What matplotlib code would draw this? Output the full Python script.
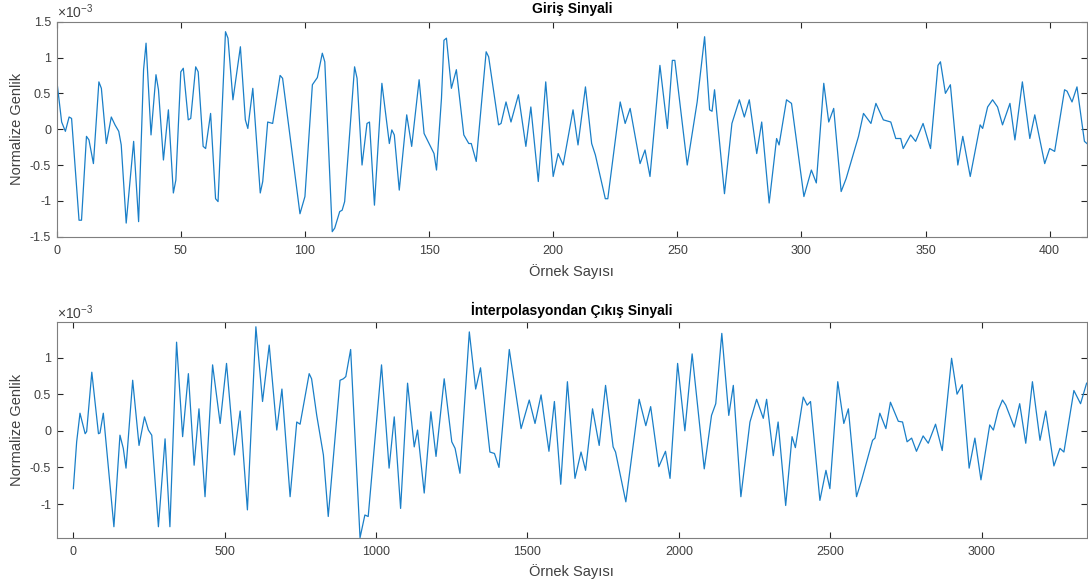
import numpy as np
import matplotlib
matplotlib.use('Agg')
from matplotlib import pyplot as plt
from matplotlib.ticker import FormatStrFormatter

# Input signal (values in units of 1e-3)
giris_x = [0, 2, 3.5, 5, 6, 9, 10, 12, 13, 14.8, 17, 18, 20, 22, 23.5, 25, 26, 28,
           31, 33, 35, 36, 38, 40, 41, 43, 45, 47, 48, 50, 51, 53, 54, 56, 57, 59,
           60, 62, 64, 65, 68, 69, 71, 74, 76, 77, 79, 82, 83, 85, 87, 90, 91, 98,
           100, 103, 105, 107, 108, 111, 112, 114, 115, 116, 120, 121, 123, 125,
           126, 128, 131, 134, 135, 136, 138, 141, 143, 146, 148, 150, 152, 153,
           155, 156, 157, 159, 161, 164, 166, 167, 169, 173, 174, 178, 179, 181,
           183, 186, 189, 191, 194, 197, 200, 202, 204, 208, 210, 213, 215.5, 217,
           221, 222, 227, 229, 231, 235, 237, 239, 243, 246, 248, 249, 254, 258,
           261, 263, 264, 265, 269, 272, 275, 277, 279, 282, 284, 287, 290, 291,
           294, 296, 301, 304, 306, 309, 311, 313, 316, 318, 323, 325, 328, 330,
           333, 336, 338, 340, 341, 344, 346, 349, 352, 355, 356, 358, 360, 363,
           365, 368, 372, 373, 375, 377, 379, 381, 384, 386, 389, 392, 394, 398,
           400, 402, 406, 407, 409, 411, 414, 415]
giris_y = [0.69, 0.1, -0.03, 0.17, 0.15, -1.27, -1.27, -0.1, -0.15, -0.48, 0.66, 0.57,
           -0.2, 0.17, 0.06, -0.03, -0.22, -1.31,
           -0.17, -1.29, 0.83, 1.2, -0.08, 0.76, 0.55, -0.43, 0.27, -0.89, -0.71,
           0.8, 0.85, 0.13, 0.15, 0.87, 0.8, -0.24,
           -0.27, 0.22, -0.97, -1.01, 1.36, 1.27, 0.41, 1.15, 0.13, 0.01, 0.57,
           -0.89, -0.73, 0.1, 0.08, 0.75, 0.71, -1.18,
           -0.94, 0.62, 0.72, 1.06, 0.94, -1.43, -1.38, -1.15, -1.13, -1.01, 0.87,
           0.71, -0.5, 0.08,
           0.1, -1.06, 0.64, -0.2, -0.01, -0.08, -0.85, 0.2, -0.24, 0.69, -0.06,
           -0.2, -0.34, -0.57,
           0.43, 1.24, 1.27, 0.57, 0.83, -0.08, -0.2, -0.2, -0.45, 1.08, 1.01,
           0.06, 0.08, 0.38,
           0.1, 0.48, -0.24, 0.31, -0.73, 0.66, -0.66, -0.34, -0.5, 0.27, -0.22,
           0.59, -0.2, -0.36,
           -0.97, -0.97, 0.38, 0.08, 0.29, -0.48, -0.29, -0.66, 0.89, 0.01, 0.96,
           0.96, -0.5, 0.38,
           1.29, 0.27, 0.25, 0.55, -0.9, 0.08, 0.41, 0.17, 0.41, -0.34, 0.1, -1.03,
           -0.13, -0.22,
           0.41, 0.36, -0.94, -0.57, -0.75, 0.64, 0.1, 0.29, -0.87, -0.69, -0.1,
           0.22, 0.08, 0.36,
           0.13, 0.1, -0.13, -0.13, -0.27, -0.08, -0.17, 0.08, -0.27, 0.89, 0.94,
           0.5, 0.62, -0.5,
           -0.1, -0.66, 0.06, 0.01, 0.31, 0.41, 0.31, 0.06, 0.36, -0.15, 0.66,
           -0.13, 0.2, -0.48,
           -0.27, -0.31, 0.55, 0.53, 0.38, 0.59, -0.17, -0.2]

# Interpolated output signal (values in units of 1e-3)
cikis_x = [0, 11, 22, 39, 44, 61, 83, 88, 99, 134, 154, 165, 174, 196, 217, 235,
           248, 259, 281, 303, 319, 341, 361, 380, 399, 415, 435, 460, 485, 506,
           532, 551, 575, 603, 625, 647, 672, 689, 716, 738, 749, 779, 787, 804,
           826, 842, 881, 892, 900, 916, 947, 963, 974, 1018, 1043, 1060, 1081,
           1104, 1126, 1137, 1159, 1181, 1198, 1225, 1250, 1261, 1277, 1308, 1329,
           1345, 1376, 1391, 1406, 1440, 1479, 1506, 1525, 1545, 1571, 1589, 1610,
           1632, 1657, 1677, 1692, 1715, 1737, 1758, 1783, 1791, 1825, 1869, 1891,
           1907, 1934, 1956, 1971, 1996, 2020, 2044, 2084, 2108, 2122, 2142, 2165,
           2180, 2205, 2235, 2257, 2279, 2290, 2312, 2328, 2353, 2374, 2385, 2411,
           2424, 2435, 2466, 2486, 2499, 2525, 2545, 2560, 2587, 2604, 2640, 2648,
           2664, 2684, 2699, 2725, 2739, 2754, 2769, 2785, 2807, 2824, 2848, 2870,
           2901, 2919, 2936, 2959, 2978, 2998, 3027, 3039, 3055, 3069, 3080, 3108,
           3126, 3146, 3168, 3193, 3212, 3239, 3259, 3272, 3305, 3327, 3347]
cikis_y = [-0.79, -0.15, 0.24, -0.04, -0.01, 0.8, -0.04, -0.03, 0.24, -1.31, -0.06,
           -0.24, -0.51, 0.69, -0.2, 0.19,
           0.01, -0.06, -1.31, -0.11, -1.31, 1.21, -0.08, 0.78, -0.47, 0.3, -0.9,
           0.9, 0.1, 0.92,
           -0.33, 0.27, -1.08, 1.42, 0.4, 1.17, 0.01, 0.57, -0.9, 0.12, 0.09, 0.78,
           0.71, 0.21,
           -0.33, -1.17, 0.69, 0.71, 0.74, 1.11, -1.46, -1.15, -1.17, 0.9, -0.51,
           0.19, -1.06,
           0.65, -0.22, 0.01, -0.85, 0.26, -0.35, 0.71, -0.15, -0.24, -0.58, 1.35,
           0.57,
           0.86, -0.29, -0.31, -0.5, 1.11, 0.03, 0.42, 0.1, 0.49, -0.28, 0.4, -0.73,
           0.67, -0.65, -0.29, -0.54, 0.3, -0.2, 0.62, -0.22, -0.29, -0.97, 0.43,
           0.07,
           0.33, -0.49, -0.28, -0.65, 0.92, 0.0, 1.05, -0.52, 0.21, 0.37, 1.33, 0.21,
           0.62, -0.9, 0.12, 0.43, 0.17, 0.43, -0.34, 0.12, -1.02, -0.08, -0.23,
           0.46,
           0.35, 0.4, -0.95, -0.54, -0.79, 0.67, 0.1, 0.3, -0.9, -0.67, -0.13, -0.1,
           0.24, 0.03, 0.39, 0.13, 0.12, -0.15, -0.1, -0.28, -0.07, -0.17, 0.09,
           -0.27,
           0.99, 0.5, 0.63, -0.51, -0.1, -0.67, 0.08, 0.01, 0.28, 0.42, 0.35, 0.05,
           0.37, -0.17, 0.67, -0.13, 0.27, -0.48, -0.24, -0.29, 0.55, 0.37, 0.65]

assert len(giris_x) == len(giris_y)
assert len(cikis_x) == len(cikis_y)

plt.rcParams['font.family'] = ['Liberation Sans', 'DejaVu Sans']
plt.rcParams['mathtext.default'] = 'regular'
plt.rcParams['axes.unicode_minus'] = False

LINE = '#1a7fc8'
GRAY = '#262626'
TXT = '#404040'


def style_axes(ax):
    for sp in ax.spines.values():
        sp.set_color('#7f7f7f')
        sp.set_linewidth(0.8)
    ax.tick_params(direction='in', length=4, width=0.8, color=GRAY,
                   top=True, right=True, labelsize=9, labelcolor=TXT)
    ax.tick_params(axis='x', pad=6)
    ax.tick_params(axis='y', pad=4)
    ax.yaxis.set_major_formatter(FormatStrFormatter('%g'))
    ax.text(0, 1.003, r'$\times10^{-3}$', transform=ax.transAxes,
            fontsize=10, color=TXT, va='bottom', ha='left')


fig = plt.figure(figsize=(10.88, 5.81), dpi=100)

ax1 = fig.add_axes([0.0521, 0.5926, 0.9469, 0.3701])
ax1.plot(giris_x, giris_y, color=LINE, linewidth=0.9, solid_joinstyle='round')
ax1.set_xlim(0, 415)
ax1.set_ylim(-1.5, 1.5)
ax1.set_xticks(np.arange(0, 401, 50))
ax1.set_yticks(np.arange(-1.5, 1.51, 0.5))
style_axes(ax1)
ax1.set_title('Giriş Sinyali', fontsize=10, fontweight='bold', color='black', pad=6)
ax1.set_xlabel('Örnek Sayısı', fontsize=10.5, color=TXT, labelpad=5)
ax1.set_ylabel('Normalize Genlik', fontsize=10.5, color=TXT, labelpad=4)

ax2 = fig.add_axes([0.0521, 0.0745, 0.9469, 0.3706])
ax2.plot(cikis_x, cikis_y, color=LINE, linewidth=0.9, solid_joinstyle='round')
ax2.set_xlim(-55, 3348)
ax2.set_ylim(-1.46, 1.48)
ax2.set_xticks(np.arange(0, 3001, 500))
ax2.set_yticks(np.arange(-1, 1.01, 0.5))
style_axes(ax2)
ax2.set_title('İnterpolasyondan Çıkış Sinyali', fontsize=10, fontweight='bold',
              color='black', pad=5)
ax2.set_xlabel('Örnek Sayısı', fontsize=10.5, color=TXT, labelpad=4)
ax2.set_ylabel('Normalize Genlik', fontsize=10.5, color=TXT, labelpad=4)

fig.savefig('out.png', dpi=100, facecolor='white')
